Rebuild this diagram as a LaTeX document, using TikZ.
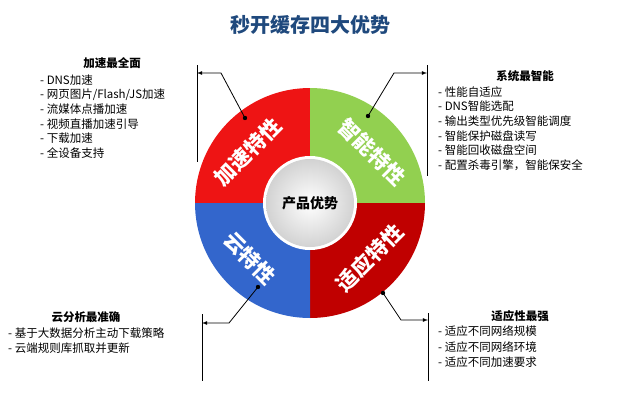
\documentclass[tikz,border=0pt]{standalone}
\usepackage{fontspec}
\setmainfont{Noto Sans CJK SC}
\begin{document}
\begin{tikzpicture}[x=1pt,y=-1pt,
    item/.style={anchor=west,font=\fontsize{11.5}{12}\selectfont,inner sep=0pt},
    head/.style={font=\fontsize{11.5}{12}\selectfont\bfseries,inner sep=0pt},
    seg/.style={font=\fontsize{21}{22}\selectfont\bfseries,text=white},
    lead/.style={thick,-latex}]

    \definecolor{ttl}{RGB}{31,73,125}
    \definecolor{segred}{RGB}{238,20,20}
    \definecolor{seggreen}{RGB}{146,208,80}
    \definecolor{segblue}{RGB}{51,102,204}
    \definecolor{segdark}{RGB}{192,0,0}

    % these coordinates fix the size
    \useasboundingbox (0,0) rectangle (627,407);

    \node (title) at (310,25) [font=\fontsize{20}{22}\selectfont\bfseries,text=ttl] {秒开缓存四大优势};

    %ring
    \begin{scope}[shift={(310,203)},y=1pt]
    \fill[segred] (0,0) -- (180:115) arc (180:90:115) -- cycle;
    \fill[seggreen] (0,0) -- (90:115) arc (90:0:115) -- cycle;
    \fill[segdark] (0,0) -- (0:115) arc (0:-90:115) -- cycle;
    \fill[segblue] (0,0) -- (-90:115) arc (-90:-180:115) -- cycle;
    \fill[white] (0,0) circle (47);
    \shade[inner color=white,outer color=gray!35] (0,0) circle (44);
    \end{scope}
    \node (core) at (310,203) [font=\fontsize{14}{15}\selectfont\bfseries] {产品优势};

    \node (jia) at (248,152) [seg,rotate=45] {加速特性};
    \node (zhi) at (372,152) [seg,rotate=-45] {智能特性};
    \node (yun) at (250,258) [seg,rotate=-45] {云特性};
    \node (shi) at (370,258) [seg,rotate=45] {适应特性};

    %bars
    \draw[thick] (197,65) -- (197,162);
    \draw[thick] (427,65) -- (427,176);
    \draw[thick] (202,314) -- (202,381);
    \draw[thick] (428,313) -- (428,381);

    %leaders
    \fill (245,118) circle (2.2) coordinate (d1);
    \fill (368,116) circle (2.2) coordinate (d2);
    \fill (258,287) circle (2.2) coordinate (d3);
    \fill (383,293) circle (2.2) coordinate (d4);
    \coordinate (b1) at (197,73); \coordinate (b2) at (427,73);
    \coordinate (b3) at (202,323); \coordinate (b4) at (428,320);
    \draw[lead] (d1) -- (221,73) -- (b1);
    \draw[lead] (d2) -- (394,73) -- (b2);
    \draw[lead] (d3) -- (229,323) -- (b3);
    \draw[lead] (d4) -- (401,320) -- (b4);

    %texts
    \node (h1) at (112,63) [head] {加速最全面};
    \foreach \t [count=\i] in {DNS加速,网页图片/Flash/JS加速,流媒体点播加速,视频直播加速引导,下载加速,全设备支持}
        \node at (40,65+14.7*\i) [item] {- \t};
    \node (h2) at (525,76) [head] {系统最智能};
    \foreach \t [count=\i] in {性能自适应,DNS智能选配,输出类型优先级智能调度,智能保护磁盘读写,智能回收磁盘空间,配置杀毒引擎，智能保安全}
        \node at (438,77+14.7*\i) [item] {- \t};
    \node (h3) at (86,317) [head] {云分析最准确};
    \foreach \t [count=\i] in {基于大数据分析主动下载策略,云端规则库抓取并更新}
        \node at (8,318+15*\i) [item] {- \t};
    \node (h4) at (520,316) [head] {适应性最强};
    \foreach \t [count=\i] in {适应不同网络规模,适应不同网络环境,适应不同加速要求}
        \node at (438,316+15.5*\i) [item] {- \t};

\end{tikzpicture}
\end{document}
